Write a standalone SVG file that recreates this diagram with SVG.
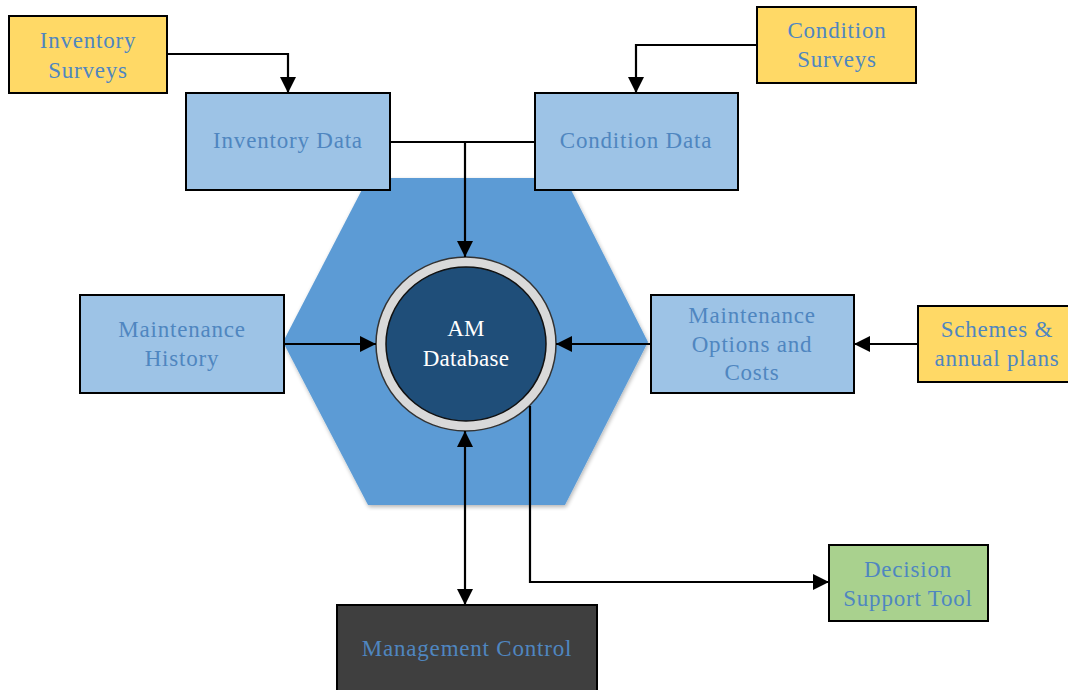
<svg xmlns="http://www.w3.org/2000/svg" width="1068" height="690" viewBox="0 0 1068 690">
<defs>
<marker id="ah" viewBox="0 0 16 16" refX="16" refY="8" markerWidth="16" markerHeight="16" markerUnits="userSpaceOnUse" orient="auto-start-reverse">
<path d="M0,0 L16,8 L0,16 Z" fill="#000"/>
</marker>
<filter id="sh" x="-10%" y="-10%" width="120%" height="120%">
<feGaussianBlur in="SourceAlpha" stdDeviation="2"/>
<feOffset dx="1" dy="2"/>
<feComponentTransfer><feFuncA type="linear" slope="0.3"/></feComponentTransfer>
<feMerge><feMergeNode/><feMergeNode in="SourceGraphic"/></feMerge>
</filter>
</defs>
<style>
.box{stroke:#000;stroke-width:2}
.yel{fill:#ffd966}
.blu{fill:#9dc3e6}
.t{font-family:"Liberation Serif","Times New Roman",serif;font-size:23px;fill:#4f86c0;text-anchor:middle;letter-spacing:0.8px}
.w{fill:#fff;letter-spacing:0.3px}
.c{fill:none;stroke:#000;stroke-width:2.2}
</style>
<rect width="1068" height="690" fill="#fff"/>
<g id="hexagon">
<polygon points="368,178 565,178 648,342 565,505 368,505 283,342" fill="#5b9bd5" filter="url(#sh)"/>
</g>
<g id="inventory-surveys">
<rect class="box yel" x="9" y="16" width="158" height="77"/>
<text class="t" x="88" y="48">Inventory</text>
<text class="t" x="88" y="78">Surveys</text>
</g>
<g id="condition-surveys">
<rect class="box yel" x="757" y="7" width="159" height="76"/>
<text class="t" x="837" y="38">Condition</text>
<text class="t" x="837" y="67">Surveys</text>
</g>
<g id="inventory-data">
<rect class="box blu" x="186" y="93" width="204" height="97"/>
<text class="t" x="288" y="148">Inventory Data</text>
</g>
<g id="condition-data">
<rect class="box blu" x="535" y="93" width="203" height="97"/>
<text class="t" x="636" y="148">Condition Data</text>
</g>
<g id="maintenance-history">
<rect class="box blu" x="80" y="295" width="204" height="98"/>
<text class="t" x="182" y="337">Maintenance</text>
<text class="t" x="182" y="366">History</text>
</g>
<g id="maintenance-options">
<rect class="box blu" x="651" y="295" width="203" height="98"/>
<text class="t" x="752" y="323">Maintenance</text>
<text class="t" x="752" y="352">Options and</text>
<text class="t" x="752" y="380">Costs</text>
</g>
<g id="schemes">
<rect class="box yel" x="918" y="306" width="160" height="76"/>
<text class="t" x="997" y="337">Schemes &amp;</text>
<text class="t" x="997" y="366">annual plans</text>
</g>
<g id="am-database">
<ellipse cx="466" cy="344" rx="90" ry="87" fill="#d9d9d9" stroke="#333" stroke-width="1.5"/>
<ellipse cx="466" cy="344" rx="80" ry="77" fill="#1f4e79" stroke="#111" stroke-width="1.5"/>
<text class="t w" x="466" y="336">AM</text>
<text class="t w" x="466" y="366">Database</text>
</g>
<g id="decision-support">
<rect class="box" x="829" y="545" width="159" height="76" fill="#a9d18e"/>
<text class="t" x="908" y="577">Decision</text>
<text class="t" x="908" y="606">Support Tool</text>
</g>
<g id="management-control">
<rect class="box" x="337" y="605" width="260" height="90" fill="#3f3f3f"/>
<text class="t" x="467" y="656">Management Control</text>
</g>
<g id="connectors">
<path class="c" d="M167,54 H288 V93" marker-end="url(#ah)"/>
<path class="c" d="M757,45 H636 V93" marker-end="url(#ah)"/>
<path class="c" d="M390,142 H535"/>
<path class="c" d="M465,142 V257" marker-end="url(#ah)"/>
<path class="c" d="M284,344 H376" marker-end="url(#ah)"/>
<path class="c" d="M651,344 H556" marker-end="url(#ah)"/>
<path class="c" d="M918,344 H854" marker-end="url(#ah)"/>
<path class="c" d="M465,431 V605" marker-start="url(#ah)" marker-end="url(#ah)"/>
<path class="c" d="M530,406 V582 H829" marker-end="url(#ah)"/>
</g>
</svg>
